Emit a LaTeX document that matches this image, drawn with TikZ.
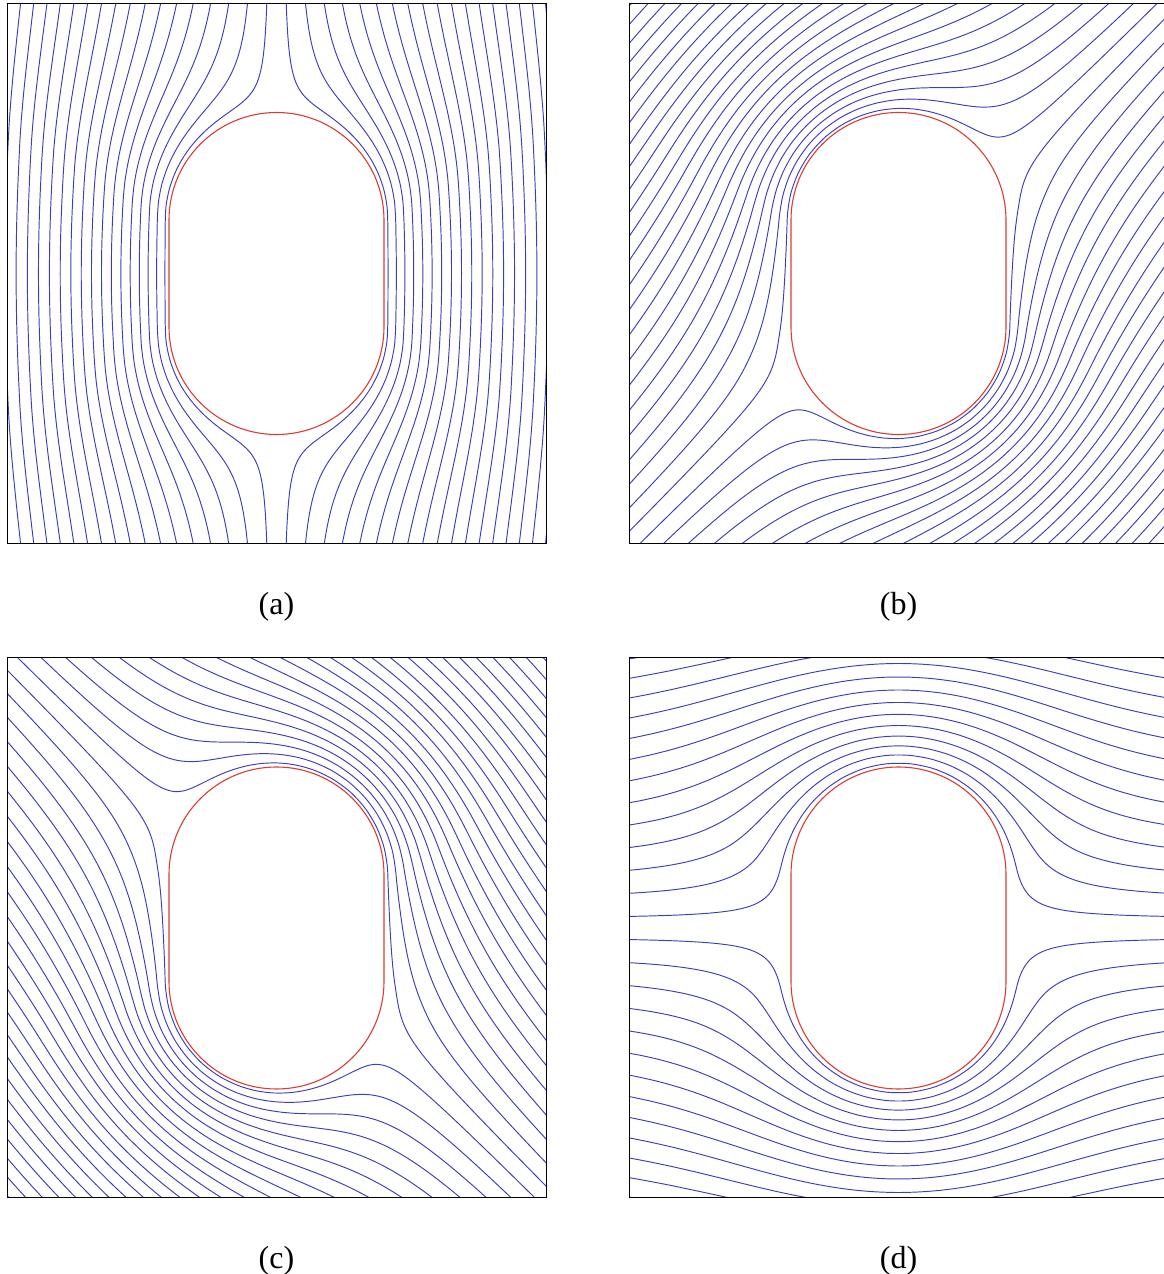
\documentclass[tikz,border=0pt]{standalone}
\usepackage{fontspec}
\setmainfont{Liberation Serif}
\definecolor{streamc}{RGB}{62,62,185}
\definecolor{wallc}{RGB}{220,60,50}
\tikzset{
  stream/.style={draw=streamc, line width=0.95pt},
  body/.style={draw=wallc, line width=1.1pt},
  frame/.style={draw=black, line width=1pt},
  lab/.style={font=\fontsize{32}{36}\selectfont, inner sep=0pt},
}
\newcommand\slK{134}
\newcommand\slW{107.5}
\newcommand\slH{53.5}
% #1 signed stream value, #2 cos(alpha), #3 sin(alpha)
\newcommand\slstream[3]{%
 \pgfmathsetmacro\slac{abs(#1)}%
 \pgfmathsetmacro\slsg{(#1<0) ? -1 : 1}%
 \pgfmathsetmacro\slsmax{ln(4/\slac+sqrt(16/(\slac*\slac)+1))}%
 \pgfmathtruncatemacro\slns{30+8*\slsmax}%
 \pgfmathsetmacro\slds{2*\slsmax/\slns}%
 \gdef\slpts{}%
 \foreach \sli in {0,...,\slns}{%
   \pgfmathsetmacro\sls{-\slsmax+\sli*\slds}%
   \pgfmathsetmacro\slv{sinh(\sls)}%
   \pgfmathsetmacro\slw{sqrt(1+\slv*\slv)}%
   \pgfmathsetmacro\slq{\slac*\slw}%
   \pgfmathsetmacro\slr{(\slq+sqrt(\slq*\slq+4))/2}%
   \pgfmathsetmacro\slxf{\slr*\slv/\slw}%
   \pgfmathsetmacro\slyf{\slsg*\slr/\slw}%
   \pgfmathsetmacro\slxz{\slxf*#2-\slyf*#3}%
   \pgfmathsetmacro\slyz{\slxf*#3+\slyf*#2}%
   \pgfmathsetmacro\slcp{abs(\slxz)/\slr}%
   \pgfmathsetmacro\slsp{abs(\slyz)/\slr}%
   \pgfmathsetmacro\slS{max(\slW*\slH/max(\slcp*\slH,\slsp*\slW),\slH*\slsp+sqrt(\slW*\slW-\slH*\slH*\slcp*\slcp))}%
   \pgfmathsetmacro\slf{\slK+(\slS-\slK)/(\slr*\slr)}%
   \pgfmathsetmacro\slpx{\slxz*\slf}%
   \pgfmathsetmacro\slpy{\slyz*\slf}%
   \xdef\slpts{\slpts(\slpx,\slpy)}%
 }%
 \edef\sltmp{\noexpand\draw[stream] plot[smooth] coordinates {\slpts};}%
 \sltmp
}
% #1 dc, #2 N, #3 cos, #4 sin
\newcommand\slpanel[4]{%
 \begin{scope}
  \clip (-269.5,-270) rectangle (269.5,270);
  \foreach \sln in {0,...,#2}{%
    \pgfmathsetmacro\slcc{(\sln+0.5)*#1}%
    \slstream{\slcc}{#3}{#4}%
    \slstream{-\slcc}{#3}{#4}%
  }%
 \end{scope}
 \draw[body] (\slW,-\slH) -- (\slW,\slH) arc[start angle=0,end angle=180,radius=107.5pt]
   -- (-\slW,-\slH) arc[start angle=180,end angle=360,radius=107.5pt] -- cycle;
 \draw[frame] (-269.5,-270) rectangle (269.5,270);
}
\begin{document}
\begin{tikzpicture}[x=1pt,y=1pt]
\useasboundingbox (0,0) rectangle (1164,1274);
\clip (0,0) rectangle (1164,1274);
\begin{scope}[shift={(276.5,1000.5)}]
 \slpanel{0.1}{20}{0}{1}
\end{scope}
\begin{scope}[shift={(898.5,1000.5)}]
 \slpanel{0.105}{24}{0.70711}{0.70711}
\end{scope}
\begin{scope}[shift={(276.5,346)}]
 \slpanel{0.105}{24}{0.70711}{-0.70711}
\end{scope}
\begin{scope}[shift={(898.5,346)}]
 \slpanel{0.14}{13}{1}{0}
\end{scope}
\node[lab] (la) at (276.5,667) {(a)};
\node[lab] (lb) at (898.5,667) {(b)};
\node[lab] (lc) at (276.5,13) {(c)};
\node[lab] (ld) at (898.5,13) {(d)};
\end{tikzpicture}
\end{document}
